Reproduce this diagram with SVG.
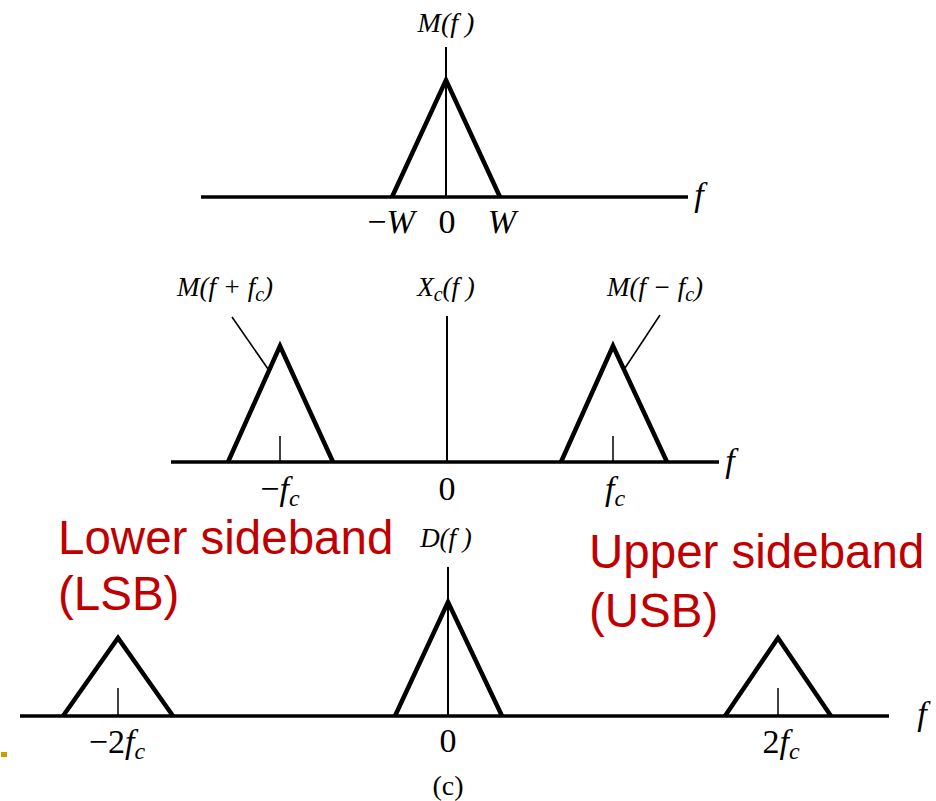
<svg xmlns="http://www.w3.org/2000/svg" width="936" height="801" viewBox="0 0 936 801">
<style>
.ax{stroke:#000;stroke-width:3.5;fill:none}
.tri{stroke:#000;stroke-width:4.5;fill:none;stroke-linejoin:miter}
.vl{stroke:#000;stroke-width:2;fill:none}
.tk{stroke:#000;stroke-width:1.5;fill:none}
.ld{stroke:#000;stroke-width:1.6;fill:none}
.m{font-family:"Liberation Serif","Times New Roman",serif;font-style:italic;fill:#000}
.n{font-family:"Liberation Serif","Times New Roman",serif;fill:#000}
.red{font-family:"Liberation Sans",Arial,sans-serif;font-size:47.5px;fill:#c00000}
</style>
<rect width="936" height="801" fill="#fff"/>
<rect x="1" y="752" width="6" height="5" fill="#c9a000"/>

<g id="panel-a">
  <line class="ax" x1="201" y1="197" x2="688" y2="197"/>
  <line class="vl" x1="446" y1="47" x2="446" y2="197"/>
  <polyline class="tri" points="392,197 446,80 500,197"/>
  <text class="m" x="446" y="32" font-size="28" text-anchor="middle">M(f )</text>
  <text class="m" x="699" y="206" font-size="34" text-anchor="middle">f</text>
  <text class="m" x="391" y="233" font-size="34" text-anchor="middle"><tspan font-style="normal">−</tspan>W</text>
  <text class="n" x="447" y="233" font-size="34" text-anchor="middle">0</text>
  <text class="m" x="502" y="233" font-size="34" text-anchor="middle">W</text>
</g>

<g id="panel-b">
  <line class="ax" x1="171" y1="462" x2="719" y2="462"/>
  <line class="vl" x1="447" y1="316" x2="447" y2="462"/>
  <polyline class="tri" points="228,462 280,346 333,462"/>
  <polyline class="tri" points="561,462 613,346 667,462"/>
  <line class="tk" x1="280" y1="436" x2="280" y2="462"/>
  <line class="tk" x1="613" y1="436" x2="613" y2="462"/>
  <line class="ld" x1="232" y1="317" x2="268" y2="369"/>
  <line class="ld" x1="660" y1="315" x2="625" y2="368"/>
  <text class="m" x="225" y="296" font-size="27" text-anchor="middle">M(f + f<tspan font-size="20" dy="5">c</tspan><tspan dy="-5">)</tspan></text>
  <text class="m" x="446" y="296" font-size="27" text-anchor="middle">X<tspan font-size="20" dy="5">c</tspan><tspan dy="-5">(f )</tspan></text>
  <text class="m" x="655" y="296" font-size="27" text-anchor="middle">M(f − f<tspan font-size="20" dy="5">c</tspan><tspan dy="-5">)</tspan></text>
  <text class="m" x="730" y="472" font-size="34" text-anchor="middle">f</text>
  <text class="m" x="280" y="500" font-size="34" text-anchor="middle"><tspan font-style="normal">−</tspan>f<tspan font-size="24" dy="6">c</tspan></text>
  <text class="n" x="447" y="500" font-size="34" text-anchor="middle">0</text>
  <text class="m" x="615" y="500" font-size="34" text-anchor="middle">f<tspan font-size="24" dy="6">c</tspan></text>
</g>

<g id="panel-c">
  <line class="ax" x1="20" y1="716" x2="889" y2="716"/>
  <line class="vl" x1="448" y1="567" x2="448" y2="716"/>
  <polyline class="tri" points="63,716 118,638 173,716"/>
  <polyline class="tri" points="395,716 448,602 502,716"/>
  <polyline class="tri" points="725,716 778,638 831,716"/>
  <line class="tk" x1="118" y1="688" x2="118" y2="716"/>
  <line class="tk" x1="778" y1="688" x2="778" y2="716"/>
  <text class="m" x="446" y="547" font-size="27" text-anchor="middle">D(f )</text>
  <text class="m" x="922" y="725" font-size="34" text-anchor="middle">f</text>
  <text class="m" x="117" y="753" font-size="34" text-anchor="middle"><tspan font-style="normal">−2</tspan>f<tspan font-size="24" dy="6">c</tspan></text>
  <text class="n" x="448" y="752" font-size="34" text-anchor="middle">0</text>
  <text class="m" x="781" y="753" font-size="34" text-anchor="middle"><tspan font-style="normal">2</tspan>f<tspan font-size="24" dy="6">c</tspan></text>
  <text class="n" x="448" y="795" font-size="28" text-anchor="middle">(c)</text>
</g>

<g id="lsb-label">
  <text class="red" x="58" y="554">Lower sideband</text>
  <text class="red" x="58" y="610">(LSB)</text>
</g>
<g id="usb-label">
  <text class="red" x="589" y="568">Upper sideband</text>
  <text class="red" x="589" y="627">(USB)</text>
</g>
</svg>
